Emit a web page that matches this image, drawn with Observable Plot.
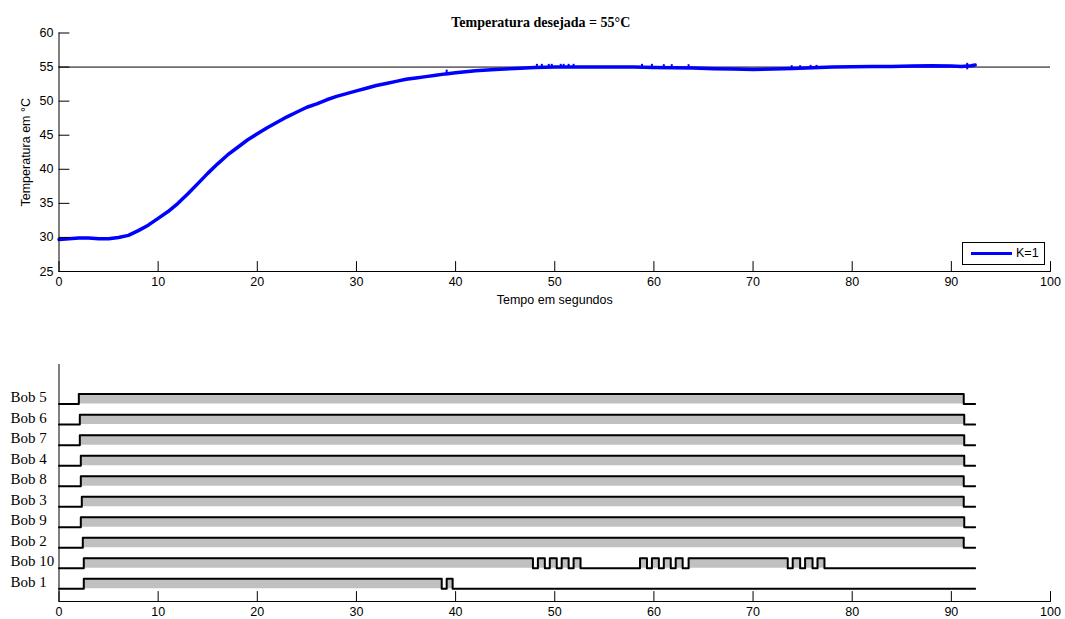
<!DOCTYPE html>
<html><head><meta charset="utf-8">
<script src="https://cdn.jsdelivr.net/npm/d3@7"></script>
<script src="https://cdn.jsdelivr.net/npm/@observablehq/plot@0.6"></script>
<style>
html,body{margin:0;padding:0;background:#fff;}
body{width:1065px;height:619px;overflow:hidden;position:relative;font-family:"Liberation Sans",Arial,sans-serif;}
svg{display:block;}
#legend{position:absolute;left:962px;top:242px;width:81px;height:21px;border:1px solid #000;background:#fff;font-size:12.5px;color:#000;}
#legend .sw{position:absolute;left:8px;top:9px;width:41px;height:3px;background:#0000ff;}
#legend .lab{position:absolute;left:53px;top:3px;line-height:14px;}
</style></head><body>
<div id="topchart"></div>
<div id="bottomchart"></div>
<div id="legend"><span class="sw"></span><span class="lab">K=1</span></div>
<script>
// ---------- data ----------
const titleText = "Temperatura desejada = 55°C";
const xLabel = "Tempo em segundos";
const yLabel = "Temperatura em °C";
const legendLabel = "K=1";
const setpoint = 55;
const xTicks = [0,10,20,30,40,50,60,70,80,90,100];
const yTicks = [25,30,35,40,45,50,55,60];

const timeS = [0,1,2,3,4,5,6,7,8,9,10,11,12,13,14,15,16,17,18,19,20,21,22,23,24,25,26,27,28,29,30,31,32,33,34,35,36,37,38,39,40,42,44,46,48,50,52,55,58,60,62,64,66,68,70,72,74,76,78,80,82,84,86,88,90,91,92,92.4];
const tempC = [29.7,29.8,29.9,29.9,29.8,29.8,30.0,30.3,31.0,31.8,32.8,33.8,35.0,36.4,37.9,39.4,40.8,42.1,43.2,44.3,45.2,46.1,46.9,47.7,48.4,49.1,49.6,50.2,50.7,51.1,51.5,51.9,52.3,52.6,52.9,53.2,53.4,53.6,53.8,54.0,54.15,54.45,54.65,54.8,54.95,55.0,55.0,55.0,55.0,54.95,54.9,54.85,54.75,54.7,54.65,54.7,54.8,54.9,55.0,55.05,55.1,55.1,55.15,55.2,55.15,55.1,55.2,55.3];

// short glitch samples on the measured curve
const spikeTime = [39.1,48.2,48.7,49.4,49.7,50.6,50.9,51.4,51.9,58.8,59.8,61.0,61.8,63.5,73.9,74.75,75.8,76.4,91.6];
const spikeLow  = [53.9,54.9,54.9,54.9,54.9,54.9,54.9,54.9,54.9,54.9,54.9,54.85,54.85,54.85,54.75,54.75,54.8,54.8,54.6];
const spikeHigh = [54.55,55.4,55.4,55.4,55.4,55.4,55.4,55.4,55.4,55.4,55.4,55.35,55.35,55.35,55.2,55.2,55.25,55.25,55.55];

// coil (bobina) on/off switching times, listed top to bottom; each starts off at t=0
const coilNames = ["Bob 5","Bob 6","Bob 7","Bob 4","Bob 8","Bob 3","Bob 9","Bob 2","Bob 10","Bob 1"];
const coilEdges = [
  [2.0, 91.25],
  [2.1, 91.3],
  [2.1, 91.3],
  [2.2, 91.3],
  [2.2, 91.25],
  [2.3, 91.25],
  [2.2, 91.3],
  [2.4, 91.25],
  [2.5, 47.8,48.3,49.0,49.5,50.2,50.7,51.4,51.9,52.6, 58.6,59.3,59.8,60.5,61.0,61.7,62.2,62.9,63.5, 73.5,74.0,74.75,75.25,76.0,76.5,77.2],
  [2.5, 38.6,39.1,39.7]
];
const endTime = 92.4;
const pulseHeight = 0.487;

// ---------- helpers ----------
const sans = "'Liberation Sans', Arial, sans-serif";
const serif = "'Liberation Serif', 'Times New Roman', serif";
const tickLen = 10;
const lineShape = {draw(context, l) { context.moveTo(0, 0); context.lineTo(0, -l); }};
// inward ticks along the bottom (pointing up) and left (pointing right)
const ticksUp = (vals, yBase) => Plot.vector(vals, {x: d => d, y: yBase, length: tickLen, rotate: 0, anchor: "start", shape: lineShape, stroke: "#000", strokeWidth: 1});
const ticksRight = (vals, xBase) => Plot.vector(vals, {x: xBase, y: d => d, length: tickLen, rotate: 90, anchor: "start", shape: lineShape, stroke: "#000", strokeWidth: 1});

// ---------- top chart ----------
const tempRows = timeS.map((t,i)=>({t, v: tempC[i]}));
const spikeRows = spikeTime.map((t,i)=>({t, a: spikeLow[i], b: spikeHigh[i]}));

const topChart = Plot.plot({
  width: 1065, height: 310,
  marginLeft: 58.5, marginRight: 15, marginTop: 32.5, marginBottom: 39,
  style: {fontFamily: sans, fontSize: "12.5px", color: "#000", background: "#fff", overflow: "visible"},
  x: {domain: [0,100]},
  y: {domain: [25,60]},
  length: {type: "identity"},
  marks: [
    Plot.ruleY([setpoint], {stroke: "#000", strokeWidth: 1}),
    Plot.line(tempRows, {x: "t", y: "v", stroke: "#0000ff", strokeWidth: 3.5}),
    Plot.ruleX(spikeRows, {x: "t", y1: "a", y2: "b", stroke: "#0000ff", strokeWidth: 2}),
    Plot.axisX({ticks: xTicks, tickSize: 0, tickPadding: 6, tickFormat: d => String(d),
      label: xLabel, labelAnchor: "center", labelArrow: "none", labelOffset: 32}),
    Plot.axisY({ticks: yTicks, tickSize: 0, tickPadding: 5.5, tickFormat: d => String(d),
      label: yLabel, labelAnchor: "center", labelArrow: "none", labelOffset: 38}),
    ticksUp(xTicks, 25),
    ticksRight(yTicks, 0),
    Plot.ruleX([0], {stroke: "#000"}),
    Plot.ruleY([25], {stroke: "#000"}),
    Plot.text([titleText], {text: d => d, frameAnchor: "top", dy: -15.5, dx: -14, fontFamily: serif, fontWeight: "bold", fontSize: 14, fill: "#000"})
  ]
});
document.getElementById("topchart").append(topChart);

// ---------- bottom chart ----------
const nRows = coilNames.length;
const stepRows = [];
coilNames.forEach((name, k) => {
  const base = nRows - 1 - k;
  let s = 0;
  stepRows.push({row: name, base, t: 0, s: 0});
  coilEdges[k].forEach(e => { s = 1 - s; stepRows.push({row: name, base, t: e, s}); });
  stepRows.push({row: name, base, t: endTime, s});
});
const labelTicks = coilNames.map((n,k) => nRows - 1 - k + 0.33);

const bottomChart = Plot.plot({
  width: 1065, height: 309,
  marginLeft: 58.5, marginRight: 15, marginTop: 54, marginBottom: 18,
  style: {fontFamily: sans, fontSize: "12.5px", color: "#000", background: "#fff", overflow: "visible"},
  x: {domain: [0,100]},
  y: {domain: [-0.62, 10.93]},
  length: {type: "identity"},
  marks: [
    Plot.areaY(stepRows, {x: "t", y1: d => d.base, y2: d => d.base + d.s * pulseHeight, z: "row", curve: "step-after", fill: "#c0c0c0"}),
    Plot.line(stepRows, {x: "t", y: d => d.base + d.s * pulseHeight, z: "row", curve: "step-after", stroke: "#000", strokeWidth: 2}),
    Plot.axisX({ticks: xTicks, tickSize: 0, tickPadding: 6, tickFormat: d => String(d), label: null}),
    ticksUp(xTicks, -0.62),
    Plot.axisY({ticks: labelTicks, tickSize: 0, tickPadding: 48.5, textAnchor: "start",
      tickFormat: d => coilNames[nRows - 1 - Math.round(d - 0.33)], fontFamily: serif, fontSize: 15, label: null}),
    Plot.ruleX([0], {stroke: "#000"}),
    Plot.ruleY([-0.62], {stroke: "#000"})
  ]
});
document.getElementById("bottomchart").append(bottomChart);
</script>
</body></html>
